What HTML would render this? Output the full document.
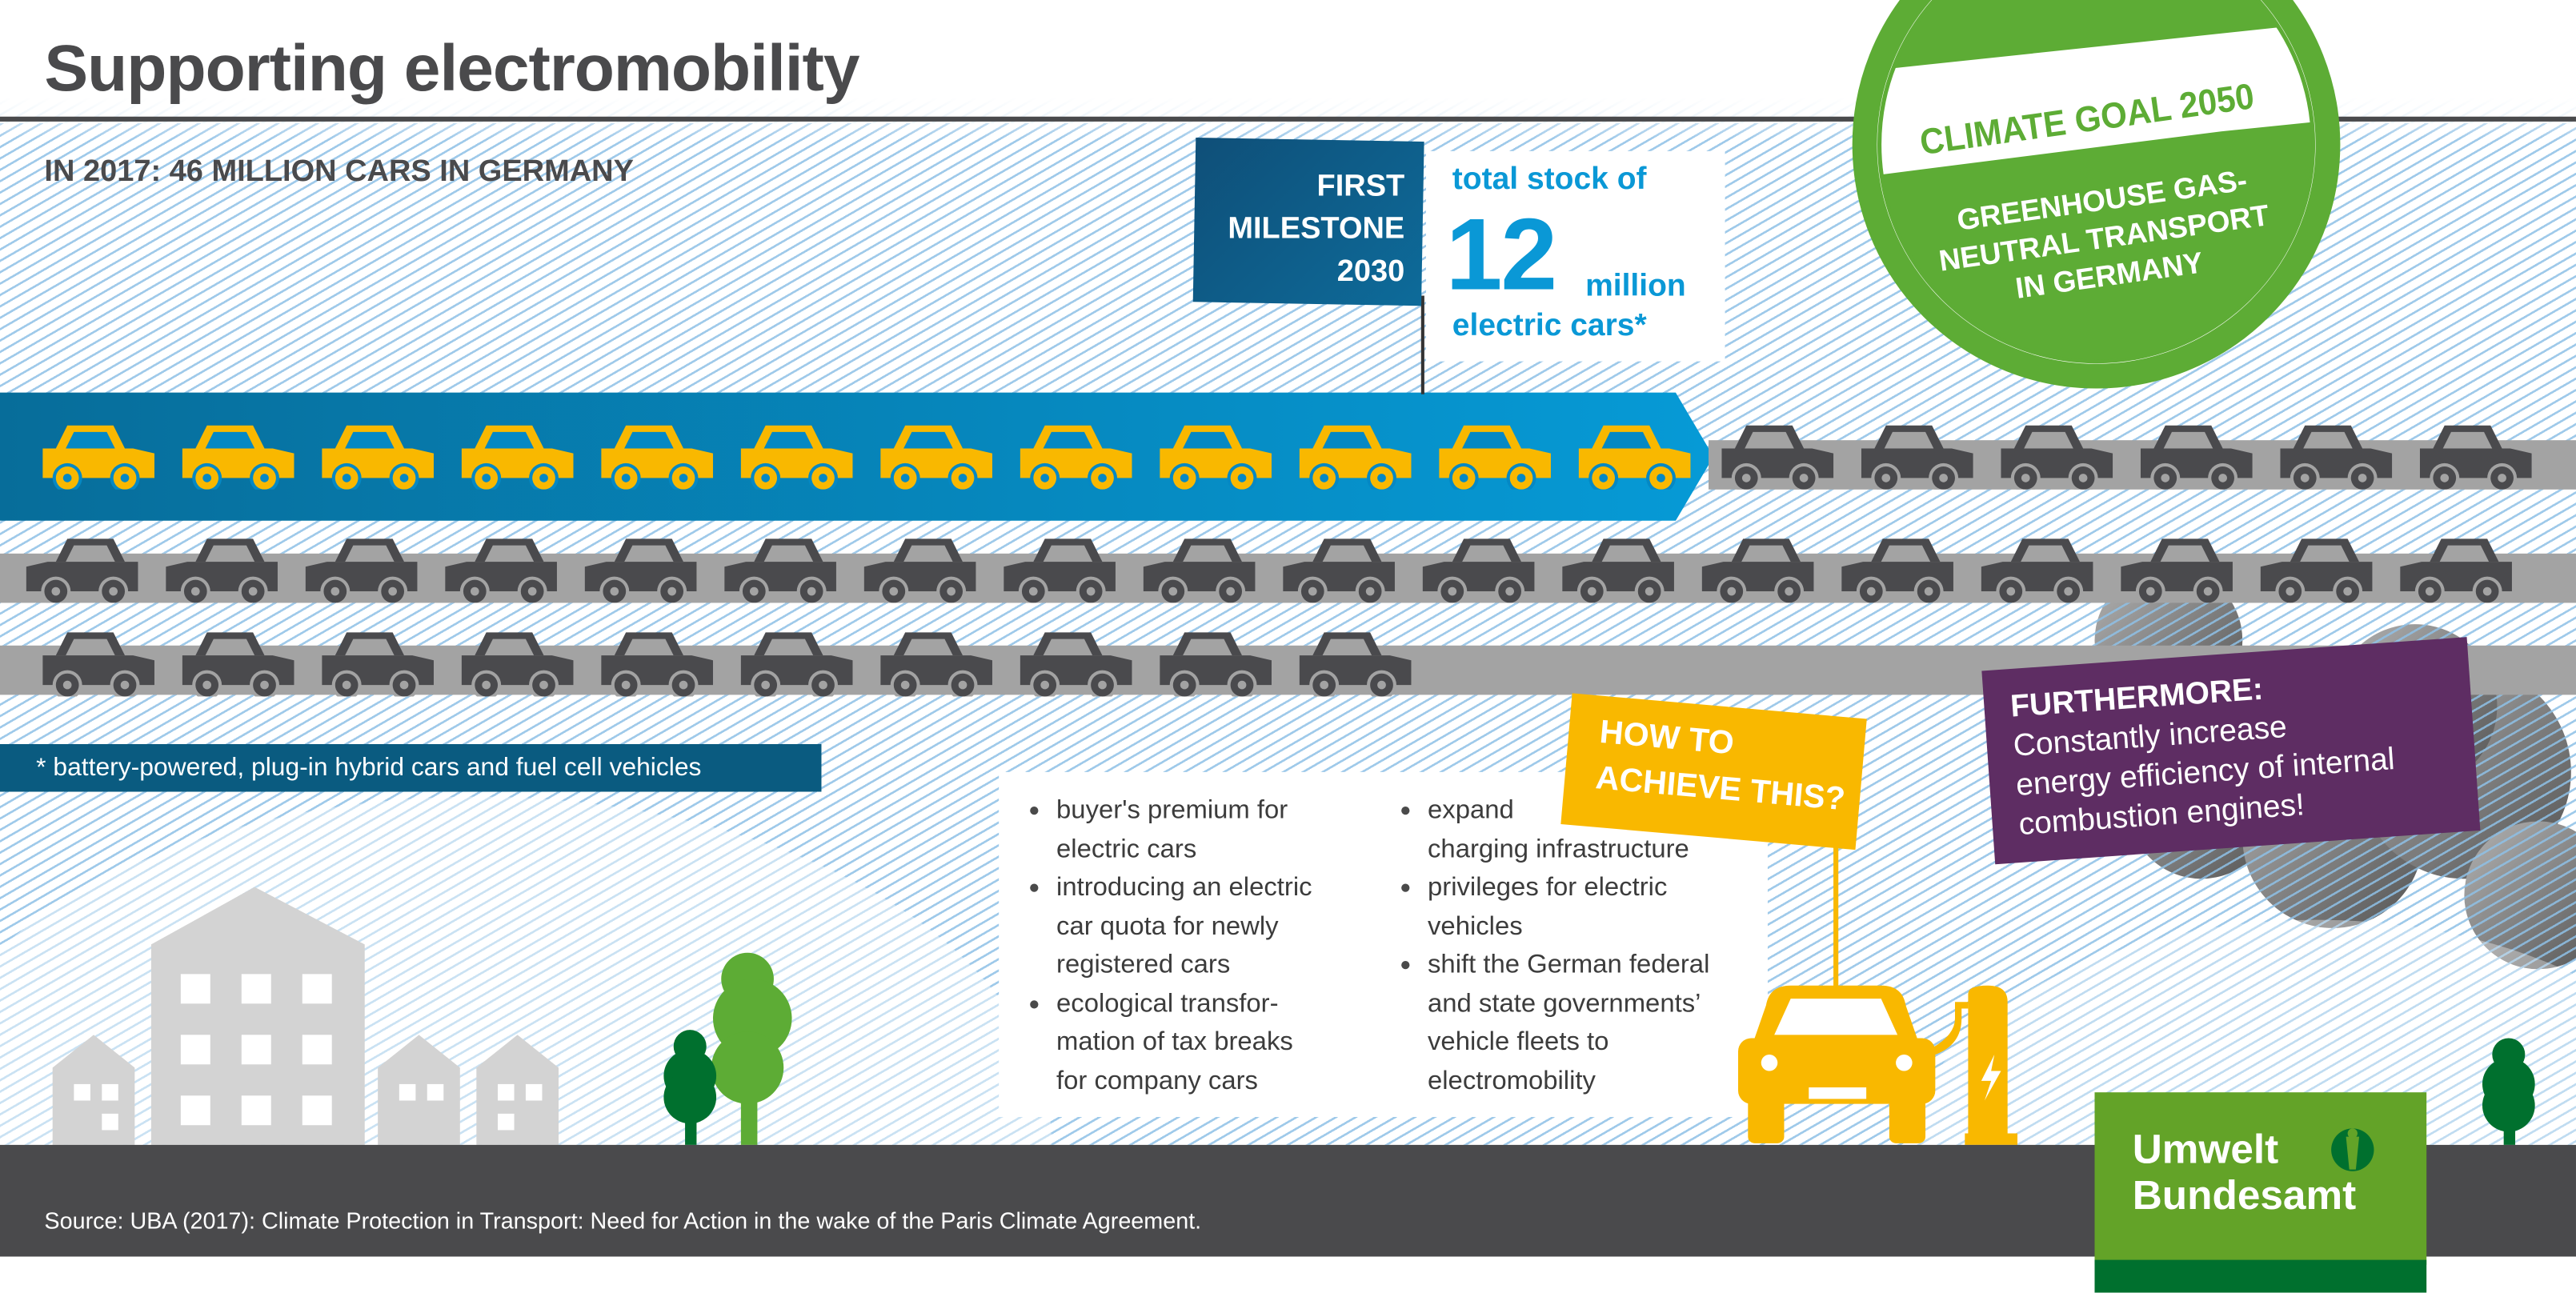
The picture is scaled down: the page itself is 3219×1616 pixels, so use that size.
<!DOCTYPE html>
<html><head><meta charset="utf-8"><style>
html,body{margin:0;padding:0;width:3219px;height:1615px;overflow:hidden;background:#fff}
#w{position:absolute;left:0;top:0;width:1568px;height:787px;transform:scale(2.05293);transform-origin:0 0;overflow:hidden;font-family:"Liberation Sans",sans-serif;background:#fff}
.hatch{position:absolute;background:repeating-linear-gradient(150deg,#8ec0e6 0 1.3px,rgba(255,255,255,0) 1.3px 6px)}
.abs{position:absolute}
.road{position:absolute;background:#a3a3a3;height:30px}
svg{position:absolute;overflow:visible}
ul{margin:0;padding:0 0 0 18px;list-style:none}
li{position:relative}
li:before{content:"";position:absolute;left:-16px;top:9px;width:5px;height:5px;border-radius:50%;background:#4a4a4a}
</style></head><body><div id="w">
<svg style="left:0;top:0" width="1568" height="787">
<defs>
<linearGradient id="cg" x1="0" y1="0" x2="1" y2="1"><stop offset="0" stop-color="#b0b0b0"/><stop offset="1" stop-color="#4a4a4a"/></linearGradient>
<symbol id="car" viewBox="0 0 72 40">
<path d="M17 1H45L52 15H10Z" style="fill:var(--c)"/>
<path d="M21 5H41L46 15H16Z" style="fill:var(--b)"/>
<path d="M2 15H57L70 18V33H2Z" style="fill:var(--c)"/>
<circle cx="17" cy="33" r="9" style="fill:var(--b)"/><circle cx="17" cy="33" r="7" style="fill:var(--c)"/><circle cx="17" cy="33" r="2.6" style="fill:var(--b)"/>
<circle cx="52" cy="33" r="9" style="fill:var(--b)"/><circle cx="52" cy="33" r="7" style="fill:var(--c)"/><circle cx="52" cy="33" r="2.6" style="fill:var(--b)"/>
</symbol>
</defs>
<g fill="url(#cg)" opacity=".95">
<circle cx="1320" cy="390" r="45"/><circle cx="1340" cy="490" r="45"/><circle cx="1420" cy="510" r="55"/><circle cx="1500" cy="470" r="65"/><circle cx="1545" cy="545" r="45"/><circle cx="1470" cy="430" r="50"/>
</g>
</svg>
<div class="hatch" style="left:0;top:75px;width:1568px;height:622px;opacity:.85"></div>
<div class="hatch" style="left:0;top:0;width:1568px;height:75px;opacity:.3"></div>
<div class="abs" style="left:-60px;top:485px;width:700px;height:420px;border-radius:50%;background:rgba(255,255,255,.45)"></div>
<div class="abs" style="left:1160px;top:560px;width:500px;height:300px;border-radius:50%;background:rgba(255,255,255,.35)"></div>

<div class="abs" style="left:0;top:0;width:1568px;height:85px;background:linear-gradient(#fff 70%,rgba(255,255,255,0))"></div>
<div class="abs" style="left:27px;top:20px;font-size:40px;font-weight:bold;color:#4a4a4c;letter-spacing:-0.5px">Supporting electromobility</div>
<div class="abs" style="left:0;top:71px;width:1568px;height:3px;background:#4a4a4c"></div>
<div class="abs" style="left:27px;top:93px;font-size:18.5px;font-weight:bold;color:#4a4a4c">IN 2017: 46 MILLION CARS IN GERMANY</div>

<svg style="left:0;top:0" width="1568" height="787">
<defs><linearGradient id="bg" x1="0" x2="1"><stop offset="0" stop-color="#076d9a"/><stop offset="1" stop-color="#069ad6"/></linearGradient></defs>
<path d="M0 239H1020L1043 278L1020 317H0Z" fill="url(#bg)"/>
</svg>
<div class="road" style="left:1040px;top:268px;width:528px"></div>
<div class="road" style="left:0;top:337px;width:1568px"></div>
<div class="road" style="left:0;top:393px;width:1568px"></div>

<svg style="left:0;top:0" width="1568" height="787">
<g style="--c:#f9b800;--b:#0588c4">
<use href="#car" x="24" y="258" width="72" height="40"/><use href="#car" x="109" y="258" width="72" height="40"/><use href="#car" x="194" y="258" width="72" height="40"/><use href="#car" x="279" y="258" width="72" height="40"/><use href="#car" x="364" y="258" width="72" height="40"/><use href="#car" x="449" y="258" width="72" height="40"/><use href="#car" x="534" y="258" width="72" height="40"/><use href="#car" x="619" y="258" width="72" height="40"/><use href="#car" x="704" y="258" width="72" height="40"/><use href="#car" x="789" y="258" width="72" height="40"/><use href="#car" x="874" y="258" width="72" height="40"/><use href="#car" x="959" y="258" width="72" height="40"/>
</g>
<g style="--c:#4a4a4d;--b:#a3a3a3">
<use href="#car" x="1046" y="258" width="72" height="40"/><use href="#car" x="1131" y="258" width="72" height="40"/><use href="#car" x="1216" y="258" width="72" height="40"/><use href="#car" x="1301" y="258" width="72" height="40"/><use href="#car" x="1386" y="258" width="72" height="40"/><use href="#car" x="1471" y="258" width="72" height="40"/>
<g transform="translate(1568 0) scale(-1 1)">
<use href="#car" x="37" y="327" width="72" height="40"/><use href="#car" x="122" y="327" width="72" height="40"/><use href="#car" x="207" y="327" width="72" height="40"/><use href="#car" x="292" y="327" width="72" height="40"/><use href="#car" x="377" y="327" width="72" height="40"/><use href="#car" x="462" y="327" width="72" height="40"/><use href="#car" x="547" y="327" width="72" height="40"/><use href="#car" x="632" y="327" width="72" height="40"/><use href="#car" x="717" y="327" width="72" height="40"/><use href="#car" x="802" y="327" width="72" height="40"/><use href="#car" x="887" y="327" width="72" height="40"/><use href="#car" x="972" y="327" width="72" height="40"/><use href="#car" x="1057" y="327" width="72" height="40"/><use href="#car" x="1142" y="327" width="72" height="40"/><use href="#car" x="1227" y="327" width="72" height="40"/><use href="#car" x="1312" y="327" width="72" height="40"/><use href="#car" x="1397" y="327" width="72" height="40"/><use href="#car" x="1482" y="327" width="72" height="40"/>
</g>
<use href="#car" x="24" y="384" width="72" height="40"/><use href="#car" x="109" y="384" width="72" height="40"/><use href="#car" x="194" y="384" width="72" height="40"/><use href="#car" x="279" y="384" width="72" height="40"/><use href="#car" x="364" y="384" width="72" height="40"/><use href="#car" x="449" y="384" width="72" height="40"/><use href="#car" x="534" y="384" width="72" height="40"/><use href="#car" x="619" y="384" width="72" height="40"/><use href="#car" x="704" y="384" width="72" height="40"/><use href="#car" x="789" y="384" width="72" height="40"/>
</g>
</svg>

<div class="abs" style="left:865px;top:180px;width:2px;height:60px;background:#333"></div>
<div class="abs" style="left:727px;top:85px;width:139px;height:100px;background:linear-gradient(135deg,#0f4f78,#0d6b9a);transform:rotate(1deg)"></div>
<div class="abs" style="left:727px;top:100px;width:128px;text-align:right;color:#fff;font-weight:bold;font-size:18.5px;line-height:26px">FIRST<br>MILESTONE<br>2030</div>
<div class="abs" style="left:868px;top:92px;width:182px;height:128px;background:#fff"></div>
<div class="abs" style="left:884px;top:99px;color:#0a98d6;font-weight:bold;font-size:19px">total stock of</div>
<div class="abs" style="left:880px;top:120px;color:#0a98d6;font-weight:bold;font-size:62px;letter-spacing:-1px">12</div>
<div class="abs" style="left:965px;top:164px;color:#0a98d6;font-weight:bold;font-size:19px">million</div>
<div class="abs" style="left:884px;top:188px;color:#0a98d6;font-weight:bold;font-size:19px">electric cars*</div>

<svg style="left:0;top:0" width="1568" height="787">
<defs><clipPath id="ic"><circle cx="1276" cy="88" r="131"/></clipPath></defs>
<circle cx="1276" cy="88" r="141" fill="#fff" stroke="#5dac35" stroke-width="15"/>
<circle cx="1276" cy="88" r="132" fill="none" stroke="#5dac35" stroke-width="2.5"/>
<g clip-path="url(#ic)" fill="#5dac35">
<path d="M1100 -20H1450V10L1148 42L1100 45Z"/>
<path d="M1100 112L1352 80L1450 70V300H1100Z"/>
</g>
<g fill="#5dac35" font-family="Liberation Sans,sans-serif" font-weight="bold" transform="rotate(-8 1270 70)">
<text x="1270" y="80" font-size="22" text-anchor="middle" textLength="205" lengthAdjust="spacingAndGlyphs">CLIMATE GOAL 2050</text>
</g>
<g fill="#fff" font-family="Liberation Sans,sans-serif" font-weight="bold" font-size="18" text-anchor="middle" transform="rotate(-8 1280 140)">
<text x="1282" y="128">GREENHOUSE GAS-</text>
<text x="1280" y="151">NEUTRAL TRANSPORT</text>
<text x="1280" y="174">IN GERMANY</text>
</g>
</svg>

<div class="abs" style="left:0;top:453px;width:500px;height:29px;background:#0a5b80;color:#fff;font-size:15.5px;line-height:29px;box-sizing:border-box;padding-left:22px">* battery-powered, plug-in hybrid cars and fuel cell vehicles</div>

<svg style="left:0;top:0" width="1568" height="787">
<g fill="#d3d3d3">
<path d="M32 650L57 630L82 650V697H32Z"/>
<path d="M92 575L155 540L222 575V697H92Z"/>
<path d="M230 650L255 630L280 650V697H230Z"/>
<path d="M290 650L315 630L340 650V697H290Z"/>
</g>
<g fill="#fff">
<rect x="110" y="593" width="18" height="18"/><rect x="147" y="593" width="18" height="18"/><rect x="184" y="593" width="18" height="18"/>
<rect x="110" y="630" width="18" height="18"/><rect x="147" y="630" width="18" height="18"/><rect x="184" y="630" width="18" height="18"/>
<rect x="110" y="667" width="18" height="18"/><rect x="147" y="667" width="18" height="18"/><rect x="184" y="667" width="18" height="18"/>
<rect x="45" y="660" width="10" height="10"/><rect x="62" y="660" width="10" height="10"/><rect x="62" y="678" width="10" height="10"/>
<rect x="243" y="660" width="10" height="10"/><rect x="260" y="660" width="10" height="10"/><rect x="303" y="660" width="10" height="10"/><rect x="320" y="660" width="10" height="10"/><rect x="303" y="678" width="10" height="10"/>
</g>
<rect x="451" y="650" width="10" height="47" fill="#5dac35"/>
<circle cx="455" cy="596" r="16" fill="#5dac35"/><circle cx="458" cy="620" r="24" fill="#5dac35"/><circle cx="455" cy="650" r="22" fill="#5dac35"/>
<rect x="417" y="670" width="7" height="27" fill="#00702e"/>
<circle cx="420" cy="637" r="10" fill="#00702e"/><circle cx="420" cy="655" r="16" fill="#00702e"/><circle cx="420" cy="668" r="16" fill="#00702e"/>
<rect x="1524" y="680" width="7" height="17" fill="#00702e"/>
<circle cx="1527" cy="642" r="10" fill="#00702e"/><circle cx="1527" cy="660" r="16" fill="#00702e"/><circle cx="1527" cy="673" r="16" fill="#00702e"/>
</svg>

<div class="abs" style="left:608px;top:470px;width:468px;height:210px;background:#fff"></div>
<div class="abs" style="left:625px;top:482px;width:220px;font-size:16px;line-height:23.5px;color:#3c3c3c">
<ul><li>buyer's premium for<br>electric cars</li><li>introducing an electric<br>car quota for newly<br>registered cars</li><li>ecological transfor-<br>mation of tax breaks<br>for company cars</li></ul></div>
<div class="abs" style="left:851px;top:482px;width:230px;font-size:16px;line-height:23.5px;color:#3c3c3c">
<ul><li>expand<br>charging infrastructure</li><li>privileges for electric<br>vehicles</li><li>shift the German federal<br>and state governments’<br>vehicle fleets to<br>electromobility</li></ul></div>

<div class="abs" style="left:1116px;top:500px;width:3px;height:110px;background:#f9b800"></div>
<div class="abs" style="left:957px;top:422px;width:180px;height:80px;background:#f9b800;transform:rotate(5deg);transform-origin:0 0"></div>
<div class="abs" style="left:975px;top:432px;color:#fff;font-weight:bold;font-size:20px;line-height:28px;transform:rotate(5deg);transform-origin:0 0">HOW TO<br>ACHIEVE THIS?</div>
<svg style="left:0;top:0" width="1568" height="787">
<g fill="#f9b800">
<path d="M1075 612Q1077 600 1090 600H1145Q1158 600 1160 612L1168 635H1067Z"/>
<rect x="1058" y="632" width="120" height="40" rx="8"/>
<rect x="1064" y="668" width="22" height="28" rx="4"/><rect x="1150" y="668" width="22" height="28" rx="4"/>
<path d="M1198 605Q1198 600 1210 600Q1222 600 1222 610V690H1228V697H1196V690H1198Z"/>
<path d="M1176 638Q1190 630 1190 620V610H1198V614H1194V620Q1194 636 1178 642Z"/>
</g>
<g fill="#fff"><path d="M1080 630L1090 608H1145L1155 630Z"/><circle cx="1077" cy="647" r="5"/><circle cx="1159" cy="647" r="5"/><rect x="1101" y="662" width="35" height="7"/>
<path d="M1214 642L1206 658H1212L1208 670L1218 652H1212Z"/></g>
</svg>

<div class="abs" style="left:1210px;top:398px;width:296px;height:118px;background:#5e2d63;transform:rotate(-4deg);transform-origin:50% 50%;box-sizing:border-box;padding:12px 0 0 16px;color:#fff;font-size:19px;line-height:24px"><b>FURTHERMORE:</b><br>Constantly increase<br>energy efficiency of internal<br>combustion engines!</div>

<div class="abs" style="left:0;top:697px;width:1568px;height:68px;background:#4a4a4c"></div>
<div class="abs" style="left:27px;top:735px;color:#fff;font-size:14px">Source: UBA (2017): Climate Protection in Transport: Need for Action in the wake of the Paris Climate Agreement.</div>
<div class="abs" style="left:1275px;top:665px;width:202px;height:105px;background:#63a328"></div>
<div class="abs" style="left:1275px;top:767px;width:202px;height:20px;background:#00702e"></div>
<div class="abs" style="left:1298px;top:686px;color:#fff;font-weight:bold;font-size:25px;line-height:28px">Umwelt<br>Bundesamt</div>
<svg style="left:0;top:0" width="1568" height="787"><circle cx="1432" cy="700" r="13" fill="#00702e"/><path d="M1428 692H1436L1434 712H1430Z" fill="#63a328"/><circle cx="1432" cy="690" r="3" fill="#63a328"/></svg>
</div></body></html>
